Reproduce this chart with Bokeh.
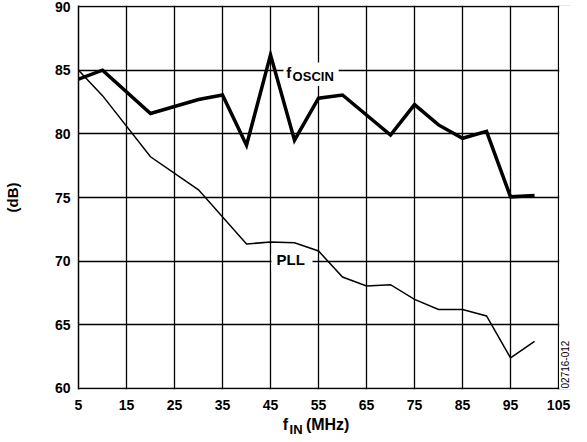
import math
from bokeh.plotting import figure
from bokeh.models import Range1d, Label, BoxAnnotation, FixedTicker, LinearAxis
from bokeh.embed import file_html
from bokeh.resources import INLINE

# data
osc_x = [5, 10, 20, 30, 35, 40, 45, 50, 55, 60, 70, 75, 80, 85, 90, 95, 100]
osc_db = [84.3, 85.0, 81.6, 82.7, 83.05, 79.1, 86.2, 79.5, 82.8, 83.05, 79.9, 82.3, 80.7, 79.65, 80.2, 75.05, 75.15]

pll_x = [5, 10, 20, 30, 40, 45, 50, 55, 60, 65, 70, 75, 80, 85, 90, 95, 100]
pll_db = [85.0, 83.0, 78.2, 75.6, 71.35, 71.5, 71.45, 70.8, 68.75, 68.05, 68.15, 67.0, 66.2, 66.2, 65.7, 62.4, 63.7]

x_ticks = [5, 15, 25, 35, 45, 55, 65, 75, 85, 95, 105]
y_ticks = [60, 65, 70, 75, 80, 85, 90]

FONT = "Liberation Sans"
NB = "\u00a0"
W, H = 571, 440

# the frame runs a little past 105 so that the figure code fits inside it
p = figure(width=W, height=H, output_backend="svg", toolbar_location=None,
           x_range=Range1d(5, 107.7), y_range=Range1d(59.92, 90.08),
           min_border_left=78, min_border_right=0, min_border_top=5, min_border_bottom=51)
p.background_fill_color = "white"
p.border_fill_color = "white"
p.outline_line_color = None

p.xaxis.ticker = FixedTicker(ticks=x_ticks)
p.yaxis.ticker = FixedTicker(ticks=y_ticks)
for ax in (p.xaxis, p.yaxis):
    ax.axis_line_color = "black"
    ax.axis_line_width = 1.5
    ax.major_tick_line_color = None
    ax.minor_tick_line_color = None
    ax.major_tick_out = 0
    ax.major_label_text_font = FONT
    ax.major_label_text_font_style = "bold"
    ax.major_label_text_font_size = "14px"
    ax.major_label_text_color = "black"
p.xaxis.axis_line_color = None
p.xaxis.major_label_standoff = 10
p.yaxis.major_label_standoff = 8

p.yaxis.axis_label = "(dB)"
p.yaxis.axis_label_text_font = FONT
p.yaxis.axis_label_text_font_style = "bold"
p.yaxis.axis_label_text_font_size = "15px"
p.yaxis.axis_label_text_color = "black"
p.yaxis.axis_label_standoff = 31

# x title: "f" ... "(MHz)" on the main axis, subscript "IN" on a bare axis below
p.xaxis.axis_label = "f" + NB * 4 + "(MHz)" + NB * 4
p.xaxis.axis_label_text_font = FONT
p.xaxis.axis_label_text_font_style = "bold"
p.xaxis.axis_label_text_font_size = "16px"
p.xaxis.axis_label_text_color = "black"
p.xaxis.axis_label_standoff = 3

sub_ax = LinearAxis(ticker=FixedTicker(ticks=[]), axis_line_color=None,
                    major_tick_line_color=None, minor_tick_line_color=None,
                    major_tick_out=0, major_label_standoff=0,
                    axis_label="IN" + NB * 16, axis_label_text_font=FONT,
                    axis_label_text_font_style="bold", axis_label_text_font_size="13px",
                    axis_label_text_color="black", axis_label_standoff=-14)
p.add_layout(sub_ax, "below")

p.xgrid.ticker = FixedTicker(ticks=x_ticks)
p.ygrid.ticker = FixedTicker(ticks=y_ticks)
for g in (p.xgrid, p.ygrid):
    g.grid_line_color = "black"
    g.grid_line_width = 1.3
    g.grid_line_alpha = 1.0

p.line(pll_x, pll_db, line_color="black", line_width=1.5, line_join="miter")
p.line(osc_x, osc_db, line_color="black", line_width=3.5, line_join="miter")

# blank strip right of the 105 border
p.add_layout(BoxAnnotation(left=105.15, fill_color="white", fill_alpha=1.0, line_color=None))
# white boxes behind in-plot labels
p.add_layout(BoxAnnotation(left=47.7, right=59.2, top=85.6, bottom=83.75,
                           fill_color="white", fill_alpha=1.0, line_color=None))
p.add_layout(BoxAnnotation(left=45.2, right=53.75, top=70.6, bottom=69.2,
                           fill_color="white", fill_alpha=1.0, line_color=None))

def lab(x, y, text, size, style="bold", **kw):
    p.add_layout(Label(x=x, y=y, text=text, text_font=FONT, text_font_style=style,
                       text_font_size=size, text_color="black", **kw))

# f_OSCIN
lab(48.3, 84.15, "f", "15px")
lab(49.6, 83.9, "OSCIN", "13px")
# PLL
lab(46.25, 69.45, "PLL", "15px")
# figure code, reading bottom to top
lab(106.4, 61.88, "02716-012", "10px", style="normal", angle=math.pi / 2,
    text_align="center", text_baseline="middle")

open("out.html", "w").write(file_html(p, INLINE))
